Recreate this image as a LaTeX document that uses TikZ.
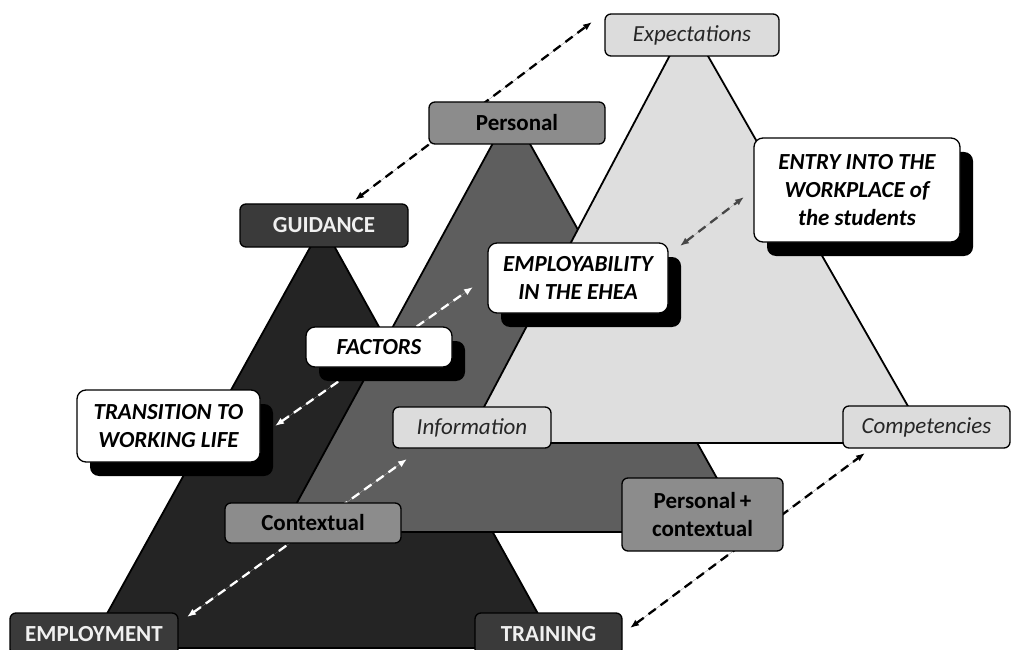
\documentclass[tikz,border=0pt]{standalone}
\usepackage{fontspec}
\setmainfont{Carlito}
\usetikzlibrary{arrows.meta,shadows}
\definecolor{tridark}{HTML}{242424}
\definecolor{trimid}{HTML}{5E5E5E}
\definecolor{trilight}{HTML}{DEDEDE}
\definecolor{boxdark}{HTML}{3A3A3A}
\definecolor{boxgray}{HTML}{8C8C8C}
\definecolor{boxlight}{HTML}{DCDCDC}
\begin{document}
\begin{tikzpicture}[x=1pt,y=-1pt,
  tri/.style={draw=black, line width=1.8pt, line join=round},
  box/.style={draw=black, line width=1.3pt, rounded corners=6pt, inner sep=0pt, align=center},
  darkbox/.style={box, fill=boxdark, text=white!94!black, font=\fontsize{23}{28}\selectfont\bfseries},
  graybox/.style={box, fill=boxgray, text=black, font=\fontsize{23}{28}\selectfont\bfseries},
  lightbox/.style={box, fill=boxlight, text=black!85, font=\fontsize{23}{28}\selectfont\itshape},
  whitebox/.style={box, fill=white, text=black, rounded corners=9pt,
    font=\fontsize{23}{28}\selectfont\bfseries\itshape,
    drop shadow={shadow xshift=13pt, shadow yshift=-14pt, fill=black, opacity=1}},
  dasharrow/.style={dash pattern=on 9pt off 6pt, line width=2.3pt,
    {Latex[length=9pt,width=7pt]}-{Latex[length=9pt,width=7pt]}}
]
\useasboundingbox (0,0) rectangle (1013,650);

% triangles
\draw[tri, fill=tridark] (322.5,225) -- (88,648) -- (557,648) -- cycle;
\draw[tri, fill=trimid] (511,110) -- (281,532) -- (747,532) -- cycle;
\draw[tri, fill=trilight] (688,21) -- (465,443) -- (929,443) -- cycle;

% arrow end points
\coordinate (a1s) at (355,200);
\coordinate (a1e) at (592,22);
\coordinate (a2s) at (630,628);
\coordinate (a2e) at (865,453);
\coordinate (a3s) at (187,617);
\coordinate (a3e) at (407,459);
\coordinate (a4s) at (275,426);
\coordinate (a4e) at (473,287);
\coordinate (a5s) at (680,246);
\coordinate (a5e) at (744,197);

% connectors
\draw[dasharrow, draw=black, fill=black] (a1s) -- (a1e);
\draw[dasharrow, draw=black, fill=black] (a2s) -- (a2e);
\draw[dasharrow, draw=white, fill=white] (a3s) -- (a3e);
\draw[dasharrow, draw=white, fill=white] (a4s) -- (a4e);
\draw[dasharrow, draw=black!72, fill=black!72] (a5s) -- (a5e);

% corner boxes
\node[lightbox, minimum width=174pt, minimum height=42pt] (expect) at (692,35) {Expectations};
\node[graybox, minimum width=176pt, minimum height=42pt] (personal) at (517,123) {Personal};
\node[darkbox, minimum width=168pt, minimum height=43pt] (guidance) at (324,225.5) {GUIDANCE};
\node[lightbox, minimum width=158pt, minimum height=41pt] (info) at (472,427.5) {Information};
\node[lightbox, minimum width=167pt, minimum height=42pt] (comp) at (926.5,427) {Competencies};
\node[graybox, minimum width=176pt, minimum height=40pt] (context) at (313,523) {Contextual};
\node[graybox, minimum width=161pt, minimum height=73pt] (perscont) at (702.5,514.5) {Personal\,+\\contextual};
\node[darkbox, minimum width=168pt, minimum height=42pt] (employ) at (94,634) {EMPLOYMENT};
\node[darkbox, minimum width=147pt, minimum height=42pt] (training) at (548.5,634) {TRAINING};

% white boxes with shadow
\node[whitebox, minimum width=146pt, minimum height=40pt] (factors) at (379,347) {FACTORS};
\node[whitebox, minimum width=183pt, minimum height=72pt] (transition) at (168.5,426) {TRANSITION TO\\WORKING LIFE};
\node[whitebox, minimum width=180pt, minimum height=70pt] (employab) at (578,278) {EMPLOYABILITY\\IN THE EHEA};
\node[whitebox, minimum width=206pt, minimum height=104pt] (entry) at (857,190) {ENTRY INTO THE\\WORKPLACE of\\the students};
\end{tikzpicture}
\end{document}
